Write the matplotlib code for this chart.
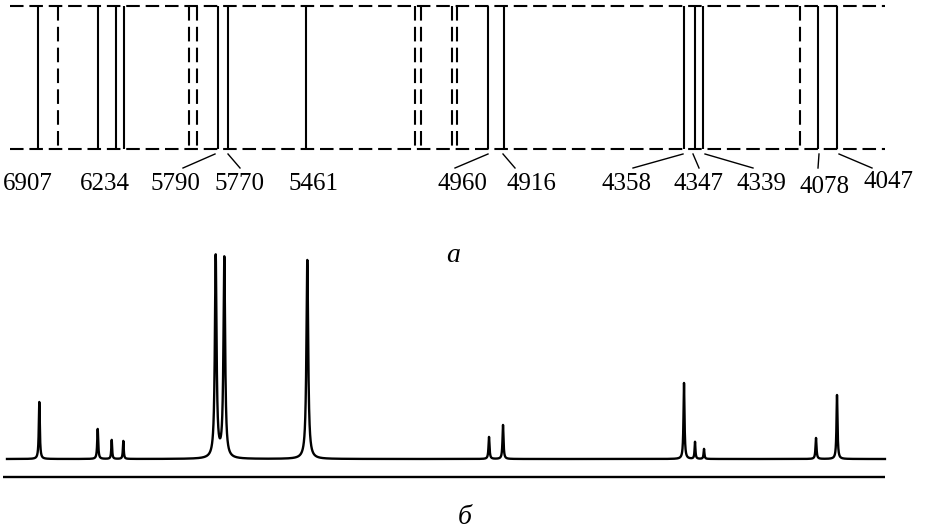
import numpy as np
import matplotlib.pyplot as plt

# upper panel (a): line positions along the plate, px
solid_lines = [38, 98, 116, 124, 218, 228, 306, 488, 504, 684, 695, 703, 818, 837]
dashed_lines = [58, 189, 197, 415, 421, 452, 457, 800]

labels = ['6907', '6234', '5790', '5770', '5461', '4960', '4916',
          '4358', '4347', '4339', '4078', '4047']
label_x = [28, 105, 175, 239, 313, 462, 531, 626, 699, 761, 824, 889]
label_y = [184, 184, 184, 184, 184, 184, 184, 184, 184, 184, 187, 182]
# leader lines: start x (at plate), end x (near label)
leader_x0 = [215, 228, 488, 503, 683, 693, 705, 819, 839]
leader_x1 = [183, 240, 455, 515, 633, 699, 753, 818, 872]

# lower panel (б): peak positions and heights (px above baseline)
peak_x = [39.3, 97.7, 111.7, 123.3, 215.7, 224.3, 307.3, 489, 503, 684, 695, 704, 816, 837]
peak_h = [57, 30, 19, 18, 202, 200, 199, 22, 34, 76, 17, 10, 21, 64]
peak_w = [0.6, 0.6, 0.5, 0.5, 1.0, 1.0, 1.05, 0.6, 0.6, 0.6, 0.5, 0.5, 0.6, 0.6]

W, H = 939, 532
fig = plt.figure(figsize=(W / 100, H / 100), dpi=100)
ax = fig.add_axes([0, 0, 1, 1])
ax.set_xlim(0, W)
ax.set_ylim(H, 0)
ax.axis('off')

top, bot = 6, 149
lw = 1.5
ax.hlines([top, bot], 10, 885, colors='black', lw=lw, linestyles=[(0, (6.5, 2.8))])
ax.vlines(solid_lines, top, bot, colors='black', lw=lw)
ax.vlines(dashed_lines, top, bot, colors='black', lw=lw, linestyles=[(0, (7, 3))])

serif = ['Liberation Serif', 'DejaVu Serif']
for lab, x, y in zip(labels, label_x, label_y):
    ax.text(x, y, lab, ha='center', va='center', fontsize=18, family=serif)
for x0, x1 in zip(leader_x0, leader_x1):
    ax.plot([x0, x1], [154, 168], color='black', lw=1.0)

ax.text(453, 255, 'а', ha='center', va='center', fontsize=20,
        style='italic', family=serif)

# spectrum trace
base = 459
xs = np.arange(7, 885, 0.05)
ys = np.zeros_like(xs)
for x0, h, g in zip(peak_x, peak_h, peak_w):
    ys += h * g ** 2 / ((xs - x0) ** 2 + g ** 2)
ax.plot(xs, base - ys, color='black', lw=1.7)
ax.hlines(477, 3, 885, colors='black', lw=1.7)

ax.text(465, 518, 'б', ha='center', va='center', fontsize=20,
        style='italic', family=serif)

fig.savefig('out.png', dpi=100)
